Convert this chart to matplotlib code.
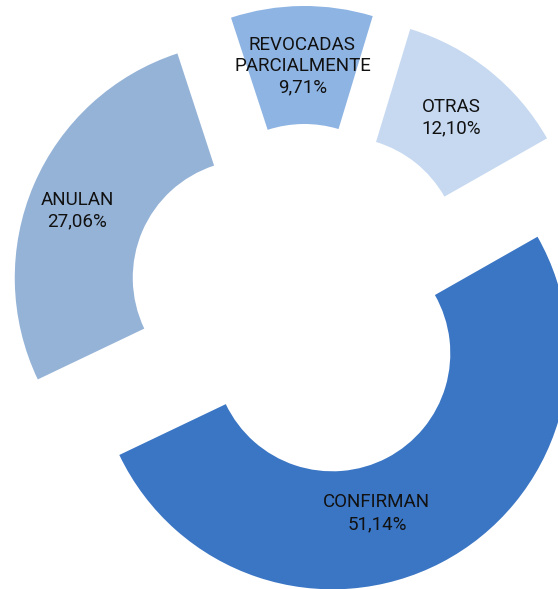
import numpy as np
import matplotlib
matplotlib.use("Agg")
import matplotlib.pyplot as plt

# shares of each outcome, in clockwise order starting at the first slice
categories = ["CONFIRMAN", "ANULAN", "REVOCADAS\nPARCIALMENTE", "OTRAS"]
shares = [51.14, 27.06, 9.71, 12.10]
labels_pct = ["51,14%", "27,06%", "9,71%", "12,10%"]
colors = ["#3B76C4", "#95B3D7", "#8EB4E3", "#C6D9F1"]

W, H = 558, 589
fig = plt.figure(figsize=(W / 100, H / 100), dpi=100)
ax = fig.add_axes([0, 0, 1, 1])

cx, cy = 305, H - 301
R = 236
ring = 118
expl = 59

wedges, _ = ax.pie(shares, colors=colors, startangle=29.6, counterclock=False,
                   radius=R, center=(cx, cy), explode=[expl] * len(shares),
                   wedgeprops=dict(width=ring, linewidth=0))

fonts = ['Liberation Sans Narrow', 'Roboto', 'DejaVu Sans']

# nudge for the label angle (degrees) and radial distance of each label
lab_rot = [-12, 2, 0, 0]
lab_dist = [166, 186, 176, 176]
for w, cat, pct, dr, dd in zip(wedges, categories, labels_pct, lab_rot, lab_dist):
    mid = np.deg2rad((w.theta1 + w.theta2) / 2 + dr)
    x0, y0 = w.center
    ax.text(x0 + dd * np.cos(mid), y0 + dd * np.sin(mid), cat + "\n" + pct,
            ha="center", va="center", fontsize=13.5, color="#111111",
            linespacing=1.25, family=fonts)

ax.set_xlim(0, W)
ax.set_ylim(0, H)
ax.set_aspect("equal")
ax.axis("off")

fig.savefig("out.png", dpi=100, facecolor="white")
